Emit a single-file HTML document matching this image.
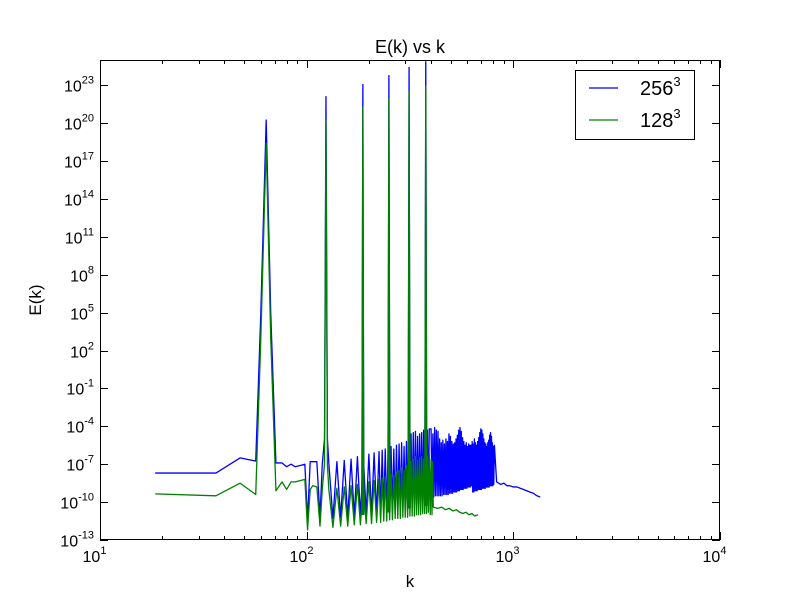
<!DOCTYPE html>
<html><head><meta charset="utf-8"><style>
body{margin:0;background:#fff}
svg{display:block;font-family:"Liberation Sans","DejaVu Sans",sans-serif}
</style></head><body>
<svg id="chart" width="800" height="600" viewBox="0 0 800 600">
<rect x="0" y="0" width="800" height="600" fill="#fff"/>
<g id="series"></g>
<g id="axes"></g>
<text x="410" y="53" text-anchor="middle" font-size="18">E(k) vs k</text>
<text x="410" y="587" text-anchor="middle" font-size="17">k</text>
<text x="41" y="300" text-anchor="middle" font-size="17" transform="rotate(-90 41 300)">E(k)</text>
<g>
<rect x="575.5" y="70.5" width="119" height="69" fill="#fff" stroke="#000"/>
<line x1="589" y1="88" x2="618" y2="88" stroke="#0000ff" stroke-width="1.3"/>
<text x="640" y="95" font-size="20">256<tspan font-size="13" dy="-9">3</tspan></text>
<line x1="589" y1="120" x2="618" y2="120" stroke="#008000" stroke-width="1.3"/>
<text x="640" y="127" font-size="20">128<tspan font-size="13" dy="-9">3</tspan></text>
</g>
</svg>
<script>
const xTickExps = [1, 2, 3, 4];
const yTickExps = [-13, -10, -7, -4, -1, 2, 5, 8, 11, 14, 17, 20, 23];

const blueK = [18.5,36.4,47.6,56.7,60,63.7,67,71,76,80,84,88,93,98,101,104,107,112,116,119,122,124,126,
128,134,140,146,152,158,164,170,176,182,188,194,200,206,212,218,224,228,232,236,240,244,248,252,256,260,264,268,272,276,280,284,288,292,296,300,304,308,312,316,320,324,328,332,336,340,344,348,352,356,360,364,368,372,376,380,384,388,392,
400,404,408,412,416,420,424,428,432,436,440,444,448,452,456,460,464,468,472,476,480,484,488,492,496,500,504,508,512,516,520,524,528,532,536,540,544,548,552,556,560,564,568,572,576,580,584,588,592,596,600,604,608,612,616,620,624,628,632,636,640,644,648,652,656,660,664,668,672,676,680,684,688,692,696,700,704,708,712,716,720,724,728,732,736,740,744,748,752,756,760,764,768,772,776,780,784,788,792,796,800,804,
810,830,850,870,900,930,960,1000,1040,1080,1120,1160,1200,1250,1300,1350];
const blueE = [-7.7,-7.7,-6.5,-6.75,5,20.25,5,-6.9,-6.9,-7.2,-7.0,-7.2,-7.1,-7.0,-11.4,-6.8,-6.8,-6.8,-11.2,-7,-5,22.1,-5,
-6.9,-11.3,-6.8,-11.2,-6.7,-11.2,-6.6,-11.1,-6.4,-11.1,-6.3,-11.0,-6.2,-11.0,-6.1,-10.9,-6.0,-10.9,-5.9,-10.8,-5.8,-10.8,-5.7,-10.7,-5.6,-10.7,-5.8,-10.6,-5.5,-10.6,-5.4,-10.5,-5.3,-10.5,-5.6,-10.4,-5.2,-10.4,-4.8,-10.3,-4.6,-10.3,-4.5,-10.2,-4.4,-10.2,-4.8,-10.1,-4.6,-10.1,-4.5,-10.0,-4.3,-10.0,-4.4,-9.9,-4.3,-9.9,-4.2,
-4.2,-9.6,-4.6,-9.6,-4.1,-9.5,-4.3,-9.5,-4.4,-9.5,-5.0,-9.5,-5.3,-9.5,-5.1,-9.4,-5.4,-9.4,-5.0,-9.4,-5.2,-9.4,-4.6,-9.3,-4.8,-9.3,-5.2,-9.3,-5.4,-9.2,-5.3,-9.2,-5.0,-9.2,-4.7,-9.1,-4.3,-9.1,-4.1,-9.0,-4.4,-9.0,-4.9,-9.0,-5.2,-8.9,-5.5,-8.9,-5.3,-8.9,-5.6,-8.8,-5.4,-8.8,-5.5,-8.8,-5.5,-8.7,
-5.2,-9.2,-5.4,-9.2,-5.0,-9.1,-5.3,-9.1,-5.5,-9.1,-5.2,-9.0,-4.9,-9.0,-4.5,-9.0,-4.2,-9.0,-4.3,-8.9,-4.6,-8.9,-5.0,-8.9,-5.3,-8.9,-5.4,-8.8,-5.6,-8.8,-5.3,-8.8,-5.1,-8.8,-4.7,-8.7,-4.5,-8.7,-4.8,-8.7,-5.3,-8.7,-5.6,-8.6,-5.5,
-8.4,-8.5,-8.6,-8.5,-8.7,-8.7,-8.8,-8.8,-8.9,-9.0,-9.1,-9.2,-9.3,-9.5,-9.6,-9.7];

const greenK = [18.5,36.4,47.6,56.7,60,63.7,67,71,76,80,84,88,93,98,101,104,107,112,116,119,122,124,126,
128,134,140,146,152,158,164,170,176,182,188,194,200,206,212,218,224,228,232,236,240,244,248,252,256,260,264,268,272,276,280,284,288,292,296,300,304,308,312,316,320,324,328,332,336,340,344,348,352,356,360,364,368,372,376,380,384,388,392,
396,400,404,406,
410,430,450,470,490,510,530,550,570,590,610,630,650,675];
const greenE = [-9.35,-9.5,-8.5,-9.4,3,18.4,3,-9.1,-8.4,-9.0,-8.4,-8.4,-8.3,-8.2,-12.2,-9.0,-8.7,-8.8,-11.9,-9.0,-7,20.2,-7,
-9.0,-12.0,-8.9,-11.9,-8.8,-11.9,-8.7,-11.8,-8.6,-11.8,-8.5,-11.7,-8.4,-11.7,-8.3,-11.6,-8.2,-11.6,-8.1,-11.5,-8.0,-11.5,-7.9,-11.4,-7.8,-11.4,-7.9,-11.3,-7.6,-11.3,-7.5,-11.3,-7.3,-11.2,-7.5,-11.2,-7.1,-11.2,-7.0,-11.1,-6.8,-11.1,-6.6,-11.1,-6.4,-11.0,-6.7,-11.0,-6.5,-11.0,-6.4,-10.9,-6.6,-10.9,-6.3,-10.9,-6.4,-10.8,-6.2,
-11.0,-6.6,-11.0,-6.8,
-10.4,-10.5,-10.4,-10.6,-10.5,-10.7,-10.6,-10.8,-10.9,-10.8,-11.0,-10.9,-11.1,-11.0];

const spikeK = [187, 250, 313, 377];
const spikeBlue = [23.1, 23.8, 24.45, 24.9];
const spikeGreen = [21.3, 22.0, 22.55, 23.0];
const spikeBase = [-11.0, -10.8, -10.5, -10.3];

const X0=100, X1=720, Y0=60, Y1=540;
const xMin=1, xMax=4, yMin=-13, yMax=25;
function xs(k){ return X0 + (Math.log10(k)-xMin)/(xMax-xMin)*(X1-X0); }
function xe(e){ return X0 + (e-xMin)/(xMax-xMin)*(X1-X0); }
function ys(le){ return Y1 - (le-yMin)/(yMax-yMin)*(Y1-Y0); }

const NS="http://www.w3.org/2000/svg";
const ser=document.getElementById('series'), ax=document.getElementById('axes');
function mk(tag, attrs, parent){ const el=document.createElementNS(NS,tag); for(const a in attrs) el.setAttribute(a,attrs[a]); parent.appendChild(el); return el; }

function drawSeries(K,E,color,name){
  const pts=K.map((k,i)=>xs(k).toFixed(2)+','+ys(E[i]).toFixed(2)).join(' ');
  const pl=mk('polyline',{points:pts,fill:'none',stroke:color,'stroke-width':1.3,'stroke-linejoin':'round'},ser);
  
  
}
function drawSpikes(P,color,name){
  spikeK.forEach((k,i)=>{
    const x=xs(k);
    const pl=mk('polyline',{points:`${x-1},${ys(spikeBase[i])} ${x},${ys(P[i])} ${x+1},${ys(spikeBase[i])}`,fill:color,stroke:color,'stroke-width':1.3},ser);
    
    
  });
}
drawSeries(blueK,blueE,'#0000ff','series-256');
drawSpikes(spikeBlue,'#0000ff','spike-256');
drawSeries(greenK,greenE,'#008000','series-128');
drawSpikes(spikeGreen,'#008000','spike-128');

const frame=mk('rect',{x:X0+0.5,y:Y0+0.5,width:X1-X0-1,height:Y1-Y0-1,fill:'none',stroke:'#000','stroke-width':1},ax);



xTickExps.forEach(e=>{
  const x=Math.round(xe(e))+0.5;
  const t=mk('path',{d:`M${x},${Y1} v-8 M${x},${Y0} v8`,stroke:'#000','stroke-width':1},ax);
  
  
  const lb=mk('text',{x:x-6,y:Y1+22,'text-anchor':'middle','font-size':16},ax);
  
  
  lb.innerHTML=`10<tspan font-size="11" dy="-8">${e}</tspan>`;
  if(e<xMax){ for(let m=2;m<=9;m++){
    const xm=Math.round(xe(e+Math.log10(m)))+0.5;
    const mt=mk('path',{d:`M${xm},${Y1} v-4 M${xm},${Y0} v4`,stroke:'#000','stroke-width':1},ax);
    
    
  }}
});
yTickExps.forEach(e=>{
  const y=Math.round(ys(e))+0.5;
  const t=mk('path',{d:`M${X0},${y} h8 M${X1},${y} h-8`,stroke:'#000','stroke-width':1},ax);
  
  
  const lb=mk('text',{x:X0-6,y:y+6,'text-anchor':'end','font-size':16},ax);
  
  
  lb.innerHTML=`10<tspan font-size="11" dy="-8">${e}</tspan>`;
});
</script>
</body></html>
